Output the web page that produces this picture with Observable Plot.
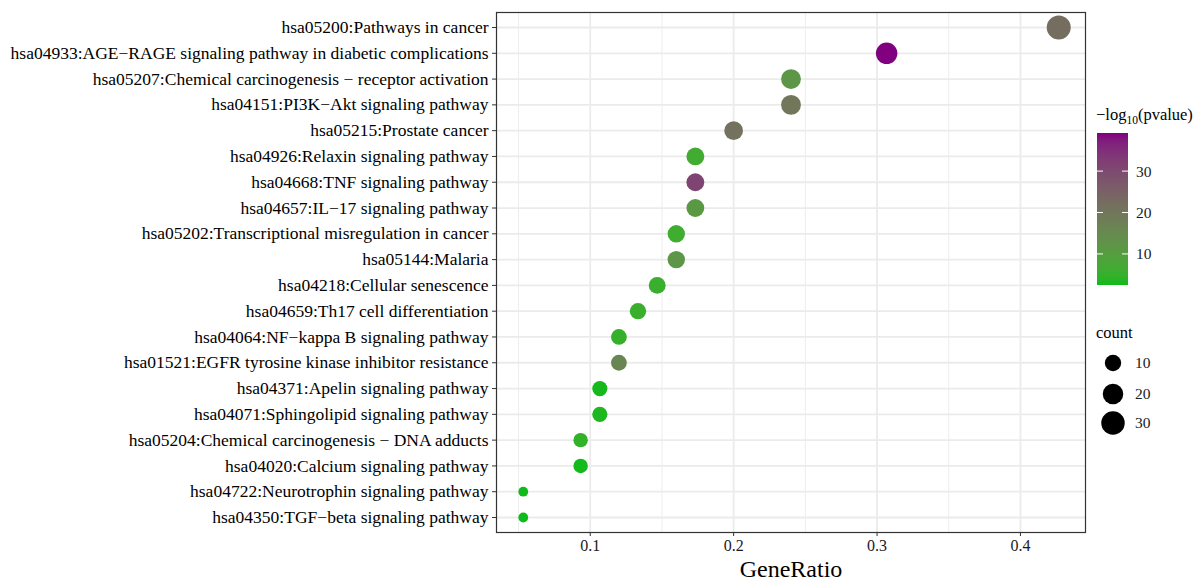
<!DOCTYPE html>
<html><head><meta charset="utf-8">
<script src="https://cdn.jsdelivr.net/npm/d3@7"></script>
<script src="https://cdn.jsdelivr.net/npm/@observablehq/plot@0.6"></script>
<style>
body{margin:0;background:#fff;}
#wrap{position:relative;width:1200px;height:581px;font-family:"Liberation Serif","Times New Roman",serif;}
#legend{position:absolute;left:0;top:0;pointer-events:none;}
</style></head><body><div id="wrap"></div>
<script>
const pathways = [
  "hsa05200:Pathways in cancer",
  "hsa04933:AGE\u2212RAGE signaling pathway in diabetic complications",
  "hsa05207:Chemical carcinogenesis \u2212 receptor activation",
  "hsa04151:PI3K\u2212Akt signaling pathway",
  "hsa05215:Prostate cancer",
  "hsa04926:Relaxin signaling pathway",
  "hsa04668:TNF signaling pathway",
  "hsa04657:IL\u221217 signaling pathway",
  "hsa05202:Transcriptional misregulation in cancer",
  "hsa05144:Malaria",
  "hsa04218:Cellular senescence",
  "hsa04659:Th17 cell differentiation",
  "hsa04064:NF\u2212kappa B signaling pathway",
  "hsa01521:EGFR tyrosine kinase inhibitor resistance",
  "hsa04371:Apelin signaling pathway",
  "hsa04071:Sphingolipid signaling pathway",
  "hsa05204:Chemical carcinogenesis \u2212 DNA adducts",
  "hsa04020:Calcium signaling pathway",
  "hsa04722:Neurotrophin signaling pathway",
  "hsa04350:TGF\u2212beta signaling pathway"
];
const counts = [32, 23, 18, 18, 15, 13, 13, 13, 12, 12, 11, 10, 9, 9, 8, 8, 7, 7, 4, 4];
const geneRatio = [0.4267, 0.3067, 0.24, 0.24, 0.2, 0.1733, 0.1733, 0.1733, 0.16, 0.16, 0.1467, 0.1333, 0.12, 0.12, 0.1067, 0.1067, 0.0933, 0.0933, 0.0533, 0.0533];
const logP = [22, 39.2, 12, 20, 21, 6.5, 31, 11, 6, 12, 5.5, 5.5, 5, 16, 2.7, 3.2, 4.5, 2.6, 2.5, 2.5];
const xTicks = [0.1, 0.2, 0.3, 0.4];
const xMinorGrid = [0.05, 0.15, 0.25, 0.35];
const colorTicks = [10, 20, 30];
const sizeTicks = [10, 20, 30];

const data = pathways.map((p, i) => ({pathway: p, ratio: geneRatio[i], count: counts[i], lp: logP[i]}));
const minC = d3.min(counts), maxC = d3.max(counts);
const [rmin, rmax] = d3.extent(geneRatio);
const pad = (rmax - rmin) * 0.05;
const [lmin, lmax] = d3.extent(logP);
const FONT = '"Liberation Serif","Times New Roman",serif';

const chart = Plot.plot({
  width: 1200, height: 581,
  marginLeft: 496, marginRight: 115, marginTop: 12, marginBottom: 49,
  style: {fontFamily: FONT, fontSize: "16px", color: "#000", background: "#fff"},
  x: {domain: [rmin - pad, rmax + pad]},
  y: {domain: pathways, padding: 0, insetTop: 15, insetBottom: 15, round: false},
  color: {type: "linear", domain: [lmin, lmax], range: ["#0fba1a", "#800080"], interpolate: "lab"},
  r: {type: "sqrt", domain: [0, maxC - minC], range: [4.9, 12]},
  marks: [
    Plot.gridX(xMinorGrid, {stroke: "#ebebeb", strokeOpacity: 1, strokeWidth: 0.9}),
    Plot.gridX(xTicks, {stroke: "#ebebeb", strokeOpacity: 1, strokeWidth: 1.8}),
    Plot.gridY(pathways, {stroke: "#ebebeb", strokeOpacity: 1, strokeWidth: 1.8}),
    Plot.dot(data, {x: "ratio", y: "pathway", r: d => d.count - minC, fill: "lp"}),
    Plot.frame({stroke: "#333", strokeWidth: 1.2}),
    Plot.axisX(xTicks, {tickSize: 4, stroke: "#333", fontSize: 16, tickFormat: d3.format(".1f"), label: null, tickPadding: 3, fill: "#1a1a1a"}),
    Plot.axisY({tickSize: 4, stroke: "#333", fontSize: 17.5, label: null, tickPadding: 4, fill: "#000"}),
    Plot.text(["GeneRatio"], {text: d => d, frameAnchor: "bottom", lineAnchor: "middle", dy: 37, fontSize: 24, fill: "#000"})
  ]
});
const wrap = document.getElementById("wrap");
wrap.appendChild(chart);

// Legends
const cs = chart.scale("color");
const rs = chart.scale("r");
const svg = d3.select(wrap).append("svg").attr("id", "legend")
  .attr("width", 1200).attr("height", 581)
  .style("font-family", FONT);

// color bar
const barX = 1097, barY = 133, barW = 31, barH = 152;
const grad = svg.append("defs").append("linearGradient").attr("id", "cg")
  .attr("x1", 0).attr("y1", 1).attr("x2", 0).attr("y2", 0);
d3.range(0, 1.0001, 0.05).forEach(t => {
  grad.append("stop").attr("offset", t).attr("stop-color", cs.apply(lmin + t * (lmax - lmin)));
});
const t1 = svg.append("text").attr("x", 1096).attr("y", 120).attr("font-size", 16.5).attr("fill", "#000");
t1.append("tspan").text("\u2212log");
t1.append("tspan").attr("font-size", 11.5).attr("dy", 4).text("10");
t1.append("tspan").attr("dy", -4).text("(pvalue)");
svg.append("rect").attr("x", barX).attr("y", barY).attr("width", barW).attr("height", barH).attr("fill", "url(#cg)");
const cy = v => barY + barH - (v - lmin) / (lmax - lmin) * barH;
colorTicks.forEach(v => {
  const y = cy(v);
  svg.append("line").attr("x1", barX).attr("x2", barX + 6).attr("y1", y).attr("y2", y).attr("stroke", "#fff").attr("stroke-width", 1);
  svg.append("line").attr("x1", barX + barW - 6).attr("x2", barX + barW).attr("y1", y).attr("y2", y).attr("stroke", "#fff").attr("stroke-width", 1);
  svg.append("text").attr("x", 1136).attr("y", y).attr("dy", "0.35em").attr("font-size", 15.5).attr("fill", "#1a1a1a").text(v);
});

// size legend
svg.append("text").attr("x", 1096).attr("y", 338).attr("font-size", 16.5).attr("fill", "#000").text("count");
const sy = [363, 394, 423];
sizeTicks.forEach((v, i) => {
  svg.append("circle").attr("cx", 1113).attr("cy", sy[i]).attr("r", rs.apply(v - minC)).attr("fill", "#000");
  svg.append("text").attr("x", 1135).attr("y", sy[i]).attr("dy", "0.35em").attr("font-size", 15.5).attr("fill", "#1a1a1a").text(v);
});
</script></body></html>
